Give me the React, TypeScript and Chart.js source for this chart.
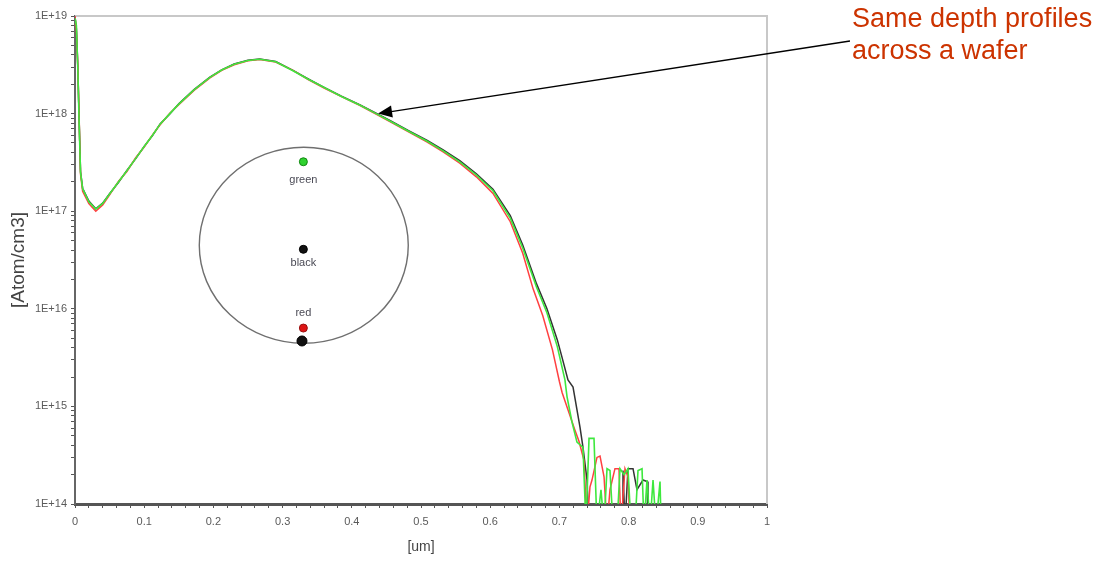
import { useEffect, useRef } from 'react';
import { Chart, registerables } from 'chart.js';
Chart.register(...registerables);

// ---- data (depth in um, concentration in atom/cm3) ----
const sharedDepth = [0, 0.002, 0.004, 0.006, 0.008, 0.011, 0.02, 0.03, 0.04, 0.05, 0.063, 0.075, 0.088, 0.1, 0.112, 0.123, 0.137, 0.15, 0.172, 0.195, 0.212, 0.23, 0.25, 0.267, 0.29, 0.315, 0.337, 0.36, 0.385, 0.412, 0.435, 0.455, 0.482, 0.509, 0.532, 0.556, 0.58, 0.604];

const greenHead = [9.5e18, 8e18, 3e18, 8e17, 2.5e17, 1.7e17, 1.25e17, 1.05e17, 1.2e17, 1.5e17, 2.0e17, 2.6e17, 3.5e17, 4.6e17, 6.0e17, 7.8e17, 1.0e18, 1.25e18, 1.75e18, 2.35e18, 2.8e18, 3.2e18, 3.5e18, 3.6e18, 3.4e18, 2.75e18, 2.25e18, 1.85e18, 1.5e18, 1.22e18, 1.0e18, 8.4e17, 6.6e17, 5.2e17, 4.15e17, 3.2e17, 2.35e17, 1.62e17];
const redHead = [1e19, 7e18, 3.2e18, 9e17, 2.4e17, 1.6e17, 1.2e17, 1.0e17, 1.16e17, 1.47e17, 2.03e17, 2.55e17, 3.55e17, 4.55e17, 6.05e17, 7.7e17, 1.01e18, 1.23e18, 1.73e18, 2.32e18, 2.78e18, 3.17e18, 3.47e18, 3.58e18, 3.37e18, 2.77e18, 2.23e18, 1.83e18, 1.49e18, 1.21e18, 0.99e18, 8.3e17, 6.5e17, 5.1e17, 4.05e17, 3.1e17, 2.25e17, 1.52e17];
const blackHead = [9.8e18, 7.5e18, 3.1e18, 8.5e17, 2.55e17, 1.72e17, 1.27e17, 1.06e17, 1.21e17, 1.51e17, 1.98e17, 2.62e17, 3.48e17, 4.62e17, 5.95e17, 7.85e17, 0.99e18, 1.26e18, 1.76e18, 2.36e18, 2.81e18, 3.22e18, 3.52e18, 3.62e18, 3.42e18, 2.77e18, 2.27e18, 1.86e18, 1.51e18, 1.23e18, 1.01e18, 8.5e17, 6.7e17, 5.3e17, 4.25e17, 3.3e17, 2.42e17, 1.68e17];

const greenTailDepth = [0.629, 0.647, 0.667, 0.682, 0.697, 0.708, 0.711, 0.718, 0.7254, 0.7341, 0.7384, 0.7428, 0.75, 0.7543, 0.7601, 0.7645, 0.7688, 0.7731, 0.7775, 0.7832, 0.7876, 0.7934, 0.7991, 0.8035, 0.8092, 0.8136, 0.8194, 0.8223, 0.8266, 0.8309, 0.8353, 0.8396, 0.8454, 0.847];
const greenTail = [8.5e16, 4.2e16, 1.66e16, 9.1e15, 4.1e15, 1.87e15, 1.26e15, 7.0e14, 4.3e14, 3.8e14, 6e13, 4.7e14, 4.7e14, 6e13, 1.4e14, 6e13, 2.3e14, 2.2e14, 6e13, 6e13, 2.3e14, 2.0e14, 2.3e14, 6e13, 6e13, 2.2e14, 2.3e14, 6e13, 1.76e14, 6e13, 1.76e14, 6e13, 1.7e14, 6e13];

const redTailDepth = [0.629, 0.647, 0.662, 0.676, 0.69, 0.7, 0.704, 0.7225, 0.7283, 0.7355, 0.7399, 0.7442, 0.7471, 0.7543, 0.7587, 0.7645, 0.7688, 0.7731, 0.7803, 0.7861, 0.789, 0.7948, 0.7991, 0.802];
const redTail = [7.8e16, 3.7e16, 1.6e16, 8.5e15, 3.8e15, 1.8e15, 1.38e15, 5.7e14, 4.4e14, 2.8e14, 6e13, 1.5e14, 1.76e14, 3.0e14, 3.1e14, 1.9e14, 6e13, 1.4e14, 2.3e14, 2.3e14, 6e13, 2.3e14, 1.9e14, 6e13];

const blackTailDepth = [0.629, 0.647, 0.667, 0.682, 0.697, 0.7037, 0.7124, 0.7197, 0.7298, 0.7341, 0.7399, 0.7428, 0.7915, 0.7919, 0.7948, 0.7991, 0.8064, 0.8121, 0.8208, 0.8266, 0.828];
const blackTail = [9.0e16, 4.5e16, 1.8e16, 1.0e16, 4.8e15, 3.2e15, 1.87e15, 1.58e15, 6.1e14, 3.8e14, 1.76e14, 6e13, 6e13, 2.2e14, 6e13, 2.3e14, 2.3e14, 1.4e14, 1.76e14, 1.7e14, 6e13];

// inset wafer map
const waferNames = ['green', 'black', 'red'];
const waferDotDepth = [0.33, 0.33, 0.33, 0.328];
const waferDotConc = [3.21e17, 4.07e16, 6.35e15, 4.68e15];
const waferDotColors = ['#2fd12f', '#111111', '#dd1515', '#111111'];
const waferLabelConc = [2.1e17, 2.96e16, 9.06e15];
const waferBounds = { xMin: 0.1796, xMax: 0.4816, yTop: 4.52e17, yBottom: 4.43e15 };

// ticks
const xTickLabels = ['0', '0.1', '0.2', '0.3', '0.4', '0.5', '0.6', '0.7', '0.8', '0.9', '1'];
const yDecades = [14, 15, 16, 17, 18, 19];
const yTickLabels = ['1E+14', '1E+15', '1E+16', '1E+17', '1E+18', '1E+19'];

const noteLines = ['Same depth profiles', 'across a wafer'];
const arrowTip = { x: 0.438, y: 1.0e18 };

const W = 1107;
const H = 561;
const FONT = '"Liberation Sans", Arial, Helvetica, sans-serif';

const pts = (xs: number[], ys: number[]) => xs.map((x, i) => ({ x, y: ys[i] }));

const decorPlugin = {
  id: 'decor',
  beforeDatasetsDraw(chart: any) {
    const { ctx, chartArea, scales } = chart;
    const xs = scales.x, ys = scales.y;
    ctx.save();
    ctx.strokeStyle = '#c8c8c8';
    ctx.lineWidth = 2;
    ctx.beginPath();
    ctx.moveTo(chartArea.left, chartArea.top);
    ctx.lineTo(chartArea.right, chartArea.top);
    ctx.lineTo(chartArea.right, chartArea.bottom);
    ctx.stroke();
    const l = xs.getPixelForValue(waferBounds.xMin);
    const r = xs.getPixelForValue(waferBounds.xMax);
    const t = ys.getPixelForValue(waferBounds.yTop);
    const b = ys.getPixelForValue(waferBounds.yBottom);
    ctx.strokeStyle = '#6f6f6f';
    ctx.lineWidth = 1.4;
    ctx.beginPath();
    ctx.ellipse((l + r) / 2, (t + b) / 2, (r - l) / 2, (b - t) / 2, 0, 0, Math.PI * 2);
    ctx.stroke();
    ctx.restore();
  },
  afterDatasetsDraw(chart: any) {
    const { ctx, scales } = chart;
    const xs = scales.x, ys = scales.y;
    ctx.save();
    ctx.fillStyle = '#4a4a55';
    ctx.font = `11px ${FONT}`;
    ctx.textAlign = 'center';
    ctx.textBaseline = 'middle';
    waferNames.forEach((n, i) => {
      ctx.fillText(n, xs.getPixelForValue(waferDotDepth[i]), ys.getPixelForValue(waferLabelConc[i]));
    });
    const tx = xs.getPixelForValue(arrowTip.x);
    const ty = ys.getPixelForValue(arrowTip.y);
    const sx = 850, sy = 41;
    const ang = Math.atan2(ty - sy, tx - sx);
    ctx.strokeStyle = '#000';
    ctx.fillStyle = '#000';
    ctx.lineWidth = 1.3;
    ctx.beginPath();
    ctx.moveTo(sx, sy);
    ctx.lineTo(tx - Math.cos(ang) * 10, ty - Math.sin(ang) * 10);
    ctx.stroke();
    const len = 14, hw = 6;
    ctx.beginPath();
    ctx.moveTo(tx, ty);
    ctx.lineTo(tx - Math.cos(ang) * len - Math.sin(ang) * hw, ty - Math.sin(ang) * len + Math.cos(ang) * hw);
    ctx.lineTo(tx - Math.cos(ang) * len + Math.sin(ang) * hw, ty - Math.sin(ang) * len - Math.cos(ang) * hw);
    ctx.closePath();
    ctx.fill();
    ctx.fillStyle = '#cc3300';
    ctx.font = `27px ${FONT}`;
    ctx.textAlign = 'left';
    ctx.textBaseline = 'alphabetic';
    noteLines.forEach((s, i) => ctx.fillText(s, 852, 27 + i * 32));
    ctx.restore();
  },
};

export default function App() {
  const ref = useRef<HTMLCanvasElement>(null);
  useEffect(() => {
    if (!ref.current) return;
    const xTickVals: number[] = [];
    for (let i = 0; i <= 50; i++) xTickVals.push(i / 50);
    const yTickVals: number[] = [];
    yDecades.forEach((d) => {
      if (d === 19) { yTickVals.push(1e19); return; }
      for (let k = 1; k <= 9; k++) yTickVals.push(k * Math.pow(10, d));
    });
    const chart = new Chart(ref.current, {
      type: 'line',
      data: {
        datasets: [
          { label: 'dots', type: 'scatter', data: pts(waferDotDepth, waferDotConc), pointRadius: [4, 4, 4, 5], pointBackgroundColor: waferDotColors, pointBorderColor: ['#118811', '#000', '#991111', '#000'], pointBorderWidth: 1, showLine: false } as any,
          { label: 'green', data: pts([...sharedDepth, ...greenTailDepth], [...greenHead, ...greenTail]), borderColor: '#3ee83e', borderWidth: 1.6, pointRadius: 0 },
          { label: 'red', data: pts([...sharedDepth, ...redTailDepth], [...redHead, ...redTail]), borderColor: '#ff4040', borderWidth: 1.5, pointRadius: 0 },
          { label: 'black', data: pts([...sharedDepth, ...blackTailDepth], [...blackHead, ...blackTail]), borderColor: '#333333', borderWidth: 1.5, pointRadius: 0 },
        ],
      },
      options: {
        responsive: false,
        animation: false,
        layout: { padding: { left: 0, top: 16, right: 340, bottom: 0 } },
        plugins: { legend: { display: false }, tooltip: { enabled: false } },
        elements: { line: { tension: 0 } },
        scales: {
          x: {
            type: 'linear', min: 0, max: 1,
            afterBuildTicks: (s: any) => { s.ticks = xTickVals.map((v) => ({ value: v })); },
            afterFit: (s: any) => { s.height = 57; },
            ticks: {
              autoSkip: false, maxRotation: 0, padding: 7, color: '#5a5a5a',
              font: { family: FONT, size: 11 },
              callback: (v: any) => {
                const t = Number(v) * 10;
                return Math.abs(t - Math.round(t)) < 1e-6 ? xTickLabels[Math.round(t)] : '';
              },
            },
            grid: { drawOnChartArea: false, tickLength: 4, color: '#555', tickWidth: 1 },
            border: { color: '#555', width: 3 },
            title: { display: true, text: '[um]', color: '#444', font: { family: FONT, size: 14 }, padding: { top: 0, bottom: 5 } },
          },
          y: {
            type: 'logarithmic', min: 1e14, max: 1e19,
            afterBuildTicks: (s: any) => { s.ticks = yTickVals.map((v) => ({ value: v })); },
            afterFit: (s: any) => { s.width = 75; },
            ticks: {
              autoSkip: false, padding: 4, color: '#5a5a5a',
              font: { family: FONT, size: 11 },
              callback: (v: any) => {
                const lg = Math.log10(Number(v));
                const idx = yDecades.findIndex((d) => Math.abs(d - lg) < 1e-6);
                return idx >= 0 ? yTickLabels[idx] : '';
              },
            },
            grid: { drawOnChartArea: false, tickLength: 4, color: '#555', tickWidth: 1 },
            border: { color: '#666', width: 2 },
            title: { display: true, text: '[Atom/cm3]', color: '#444', font: { family: FONT, size: 19 }, padding: { top: 7, bottom: 0 } },
          },
        },
      },
      plugins: [decorPlugin],
    } as any);
    return () => chart.destroy();
  }, []);
  return (
    <div style={{ position: 'fixed', left: 0, top: 0, width: W, height: H, background: '#fff' }}>
      <canvas ref={ref} width={W} height={H} style={{ display: 'block', width: W, height: H }} />
    </div>
  );
}
